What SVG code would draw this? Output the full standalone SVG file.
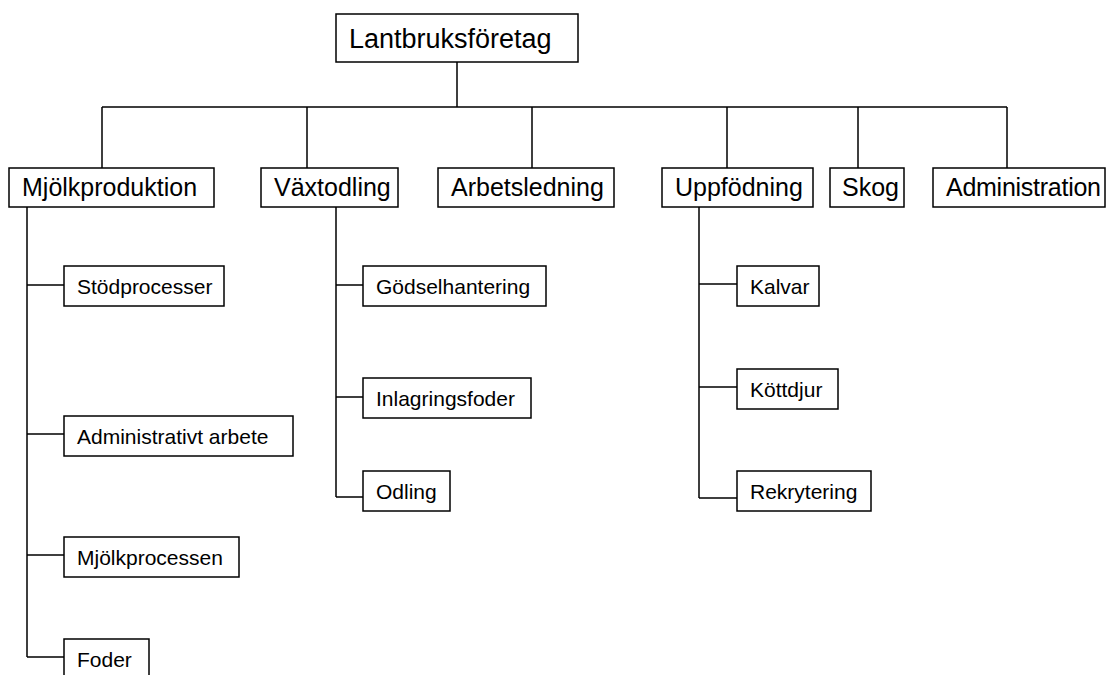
<svg xmlns="http://www.w3.org/2000/svg" width="1108" height="675" viewBox="0 0 1108 675">
<style>
  .box { fill: #ffffff; stroke: #000000; stroke-width: 1.5; }
  .line { fill: none; stroke: #000000; stroke-width: 1.5; }
  text { font-family: "Liberation Sans", Arial, sans-serif; fill: #000000; }
  .root { font-size: 27px; }
  .l1 { font-size: 25px; }
  .l2 { font-size: 21px; }
</style>
<rect width="1108" height="675" fill="#ffffff"/>
<g id="connectors">
  <path class="line" d="M457 62 V107 M102 107 H1007 M102 107 V168 M307 107 V168 M532 107 V168 M727 107 V168 M858 107 V168 M1007 107 V168"/>
  <path class="line" d="M27 207 V657 M27 285 H64 M27 434 H64 M27 555 H64 M27 657 H64"/>
  <path class="line" d="M336 207 V497 M336 285 H363 M336 397 H363 M336 497 H363"/>
  <path class="line" d="M699 207 V498 M699 284 H737 M699 387 H737 M699 498 H737"/>
</g>
<g id="n-lantbruksforetag"><rect class="box" x="336" y="14" width="242" height="48"/><text class="root" x="349" y="48">Lantbruksföretag</text></g>
<g id="n-mjolkproduktion"><rect class="box" x="9" y="168" width="205" height="39"/><text class="l1" x="22" y="196">Mjölkproduktion</text></g>
<g id="n-vaxtodling"><rect class="box" x="261" y="168" width="137" height="39"/><text class="l1" x="274" y="196">Växtodling</text></g>
<g id="n-arbetsledning"><rect class="box" x="438" y="168" width="176" height="39"/><text class="l1" x="451" y="196">Arbetsledning</text></g>
<g id="n-uppfodning"><rect class="box" x="662" y="168" width="151" height="39"/><text class="l1" x="675" y="196">Uppfödning</text></g>
<g id="n-skog"><rect class="box" x="830" y="168" width="74" height="39"/><text class="l1" x="842" y="196">Skog</text></g>
<g id="n-administration"><rect class="box" x="933" y="168" width="172" height="39"/><text class="l1" x="946" y="196" textLength="155">Administration</text></g>
<g id="n-stodprocesser"><rect class="box" x="64" y="266" width="160" height="40"/><text class="l2" x="77" y="294">Stödprocesser</text></g>
<g id="n-administrativt-arbete"><rect class="box" x="64" y="416" width="229" height="40"/><text class="l2" x="77" y="444">Administrativt arbete</text></g>
<g id="n-mjolkprocessen"><rect class="box" x="64" y="537" width="175" height="40"/><text class="l2" x="77" y="565">Mjölkprocessen</text></g>
<g id="n-foder"><rect class="box" x="64" y="639" width="85" height="40"/><text class="l2" x="77" y="667">Foder</text></g>
<g id="n-godselhantering"><rect class="box" x="363" y="266" width="183" height="40"/><text class="l2" x="376" y="294">Gödselhantering</text></g>
<g id="n-inlagringsfoder"><rect class="box" x="363" y="378" width="168" height="40"/><text class="l2" x="376" y="406">Inlagringsfoder</text></g>
<g id="n-odling"><rect class="box" x="363" y="471" width="87" height="40"/><text class="l2" x="376" y="499">Odling</text></g>
<g id="n-kalvar"><rect class="box" x="737" y="266" width="82" height="40"/><text class="l2" x="750" y="294">Kalvar</text></g>
<g id="n-kottdjur"><rect class="box" x="737" y="369" width="101" height="40"/><text class="l2" x="750" y="397">Köttdjur</text></g>
<g id="n-rekrytering"><rect class="box" x="737" y="471" width="134" height="40"/><text class="l2" x="750" y="499">Rekrytering</text></g>
</svg>
